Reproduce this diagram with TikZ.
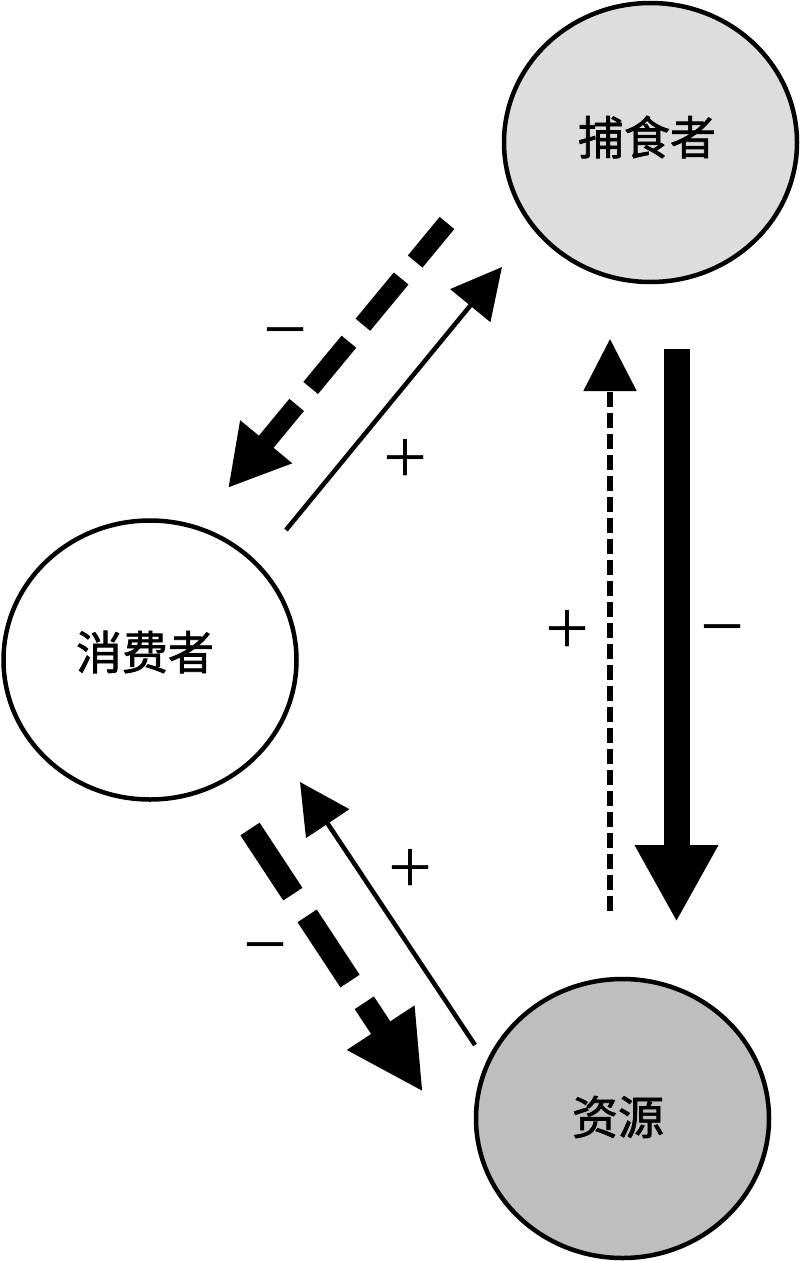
\documentclass[tikz,border=0pt]{standalone}
\usepackage{fontspec}
\newfontfamily\cjk{Noto Sans CJK SC}[FakeBold=1.5]
\newfontfamily\signfont{Liberation Serif}
\usetikzlibrary{arrows.meta,shapes.geometric}
\definecolor{predfill}{RGB}{221,221,221}
\definecolor{resfill}{RGB}{190,190,190}
\begin{document}
\begin{tikzpicture}[x=1pt,y=-1pt,
  blob/.style={ellipse, draw=black, line width=4.5pt, minimum width=293pt, minimum height=279pt, inner sep=0pt},
  cjklabel/.style={font=\cjk\fontsize{46}{46}\selectfont, inner sep=0pt},
  sign/.style={font=\signfont\fontsize{78}{78}\selectfont, inner sep=0pt, text height=44pt, text depth=0pt},
  thinarrow/.style={line width=4.5pt, -{Triangle[length=50pt,width=51pt]}},
  dashA/.style={line width=19pt, dash pattern=on 60pt off 22pt, dash phase=10pt, -{Triangle[length=60pt,width=63pt]}},
  dashB/.style={line width=23pt, dash pattern=on 78pt off 26pt, -{Triangle[length=77pt,width=75pt]}},
  thindash/.style={line width=5.5pt, dash pattern=on 15pt off 6pt, -{Triangle[length=52pt,width=52pt]}},
  thicksolid/.style={line width=26pt, -{Triangle[length=77pt,width=78pt]}}
]
\useasboundingbox (0,0) rectangle (800,1261);
\fill[white] (0,0) rectangle (800,1261);

\node[blob, fill=predfill] (pred) at (650.5,142.5) {};
\node[blob, fill=white] (cons) at (150,660) {};
\node[blob, fill=resfill] (res) at (622.5,1118.5) {};
\node[cjklabel] (predT) at (647,137) {捕食者};
\node[cjklabel] (consT) at (145,652) {消费者};
\node[cjklabel] (resT) at (618,1117) {资源};

% connector end points
\coordinate (cpS) at (286,530);
\coordinate (cpT) at (502,267);
\coordinate (pcS) at (447,223);
\coordinate (pcT) at (228,488);
\coordinate (crS) at (250,829);
\coordinate (crT) at (423,1092);
\coordinate (rcS) at (475,1045);
\coordinate (rcT) at (300,782);
\coordinate (rpS) at (610,911);
\coordinate (rpT) at (610,339);
\coordinate (prS) at (676.5,349);
\coordinate (prT) at (676.5,922);

\draw[thinarrow] (cpS) -- (cpT);
\draw[dashA] (pcS) -- (pcT);
\draw[dashB] (crS) -- (crT);
\draw[thinarrow] (rcS) -- (rcT);
\draw[thindash] (rpS) -- (rpT);
\draw[thicksolid] (prS) -- (prT);

\node[sign] (s1) at (285,333) {−};
\node[sign] (s2) at (405,461) {+};
\node[sign] (s3) at (567,632) {+};
\node[sign] (s4) at (722,630) {−};
\node[sign] (s5) at (410,871) {+};
\node[sign] (s6) at (265,948) {−};
\end{tikzpicture}
\end{document}
